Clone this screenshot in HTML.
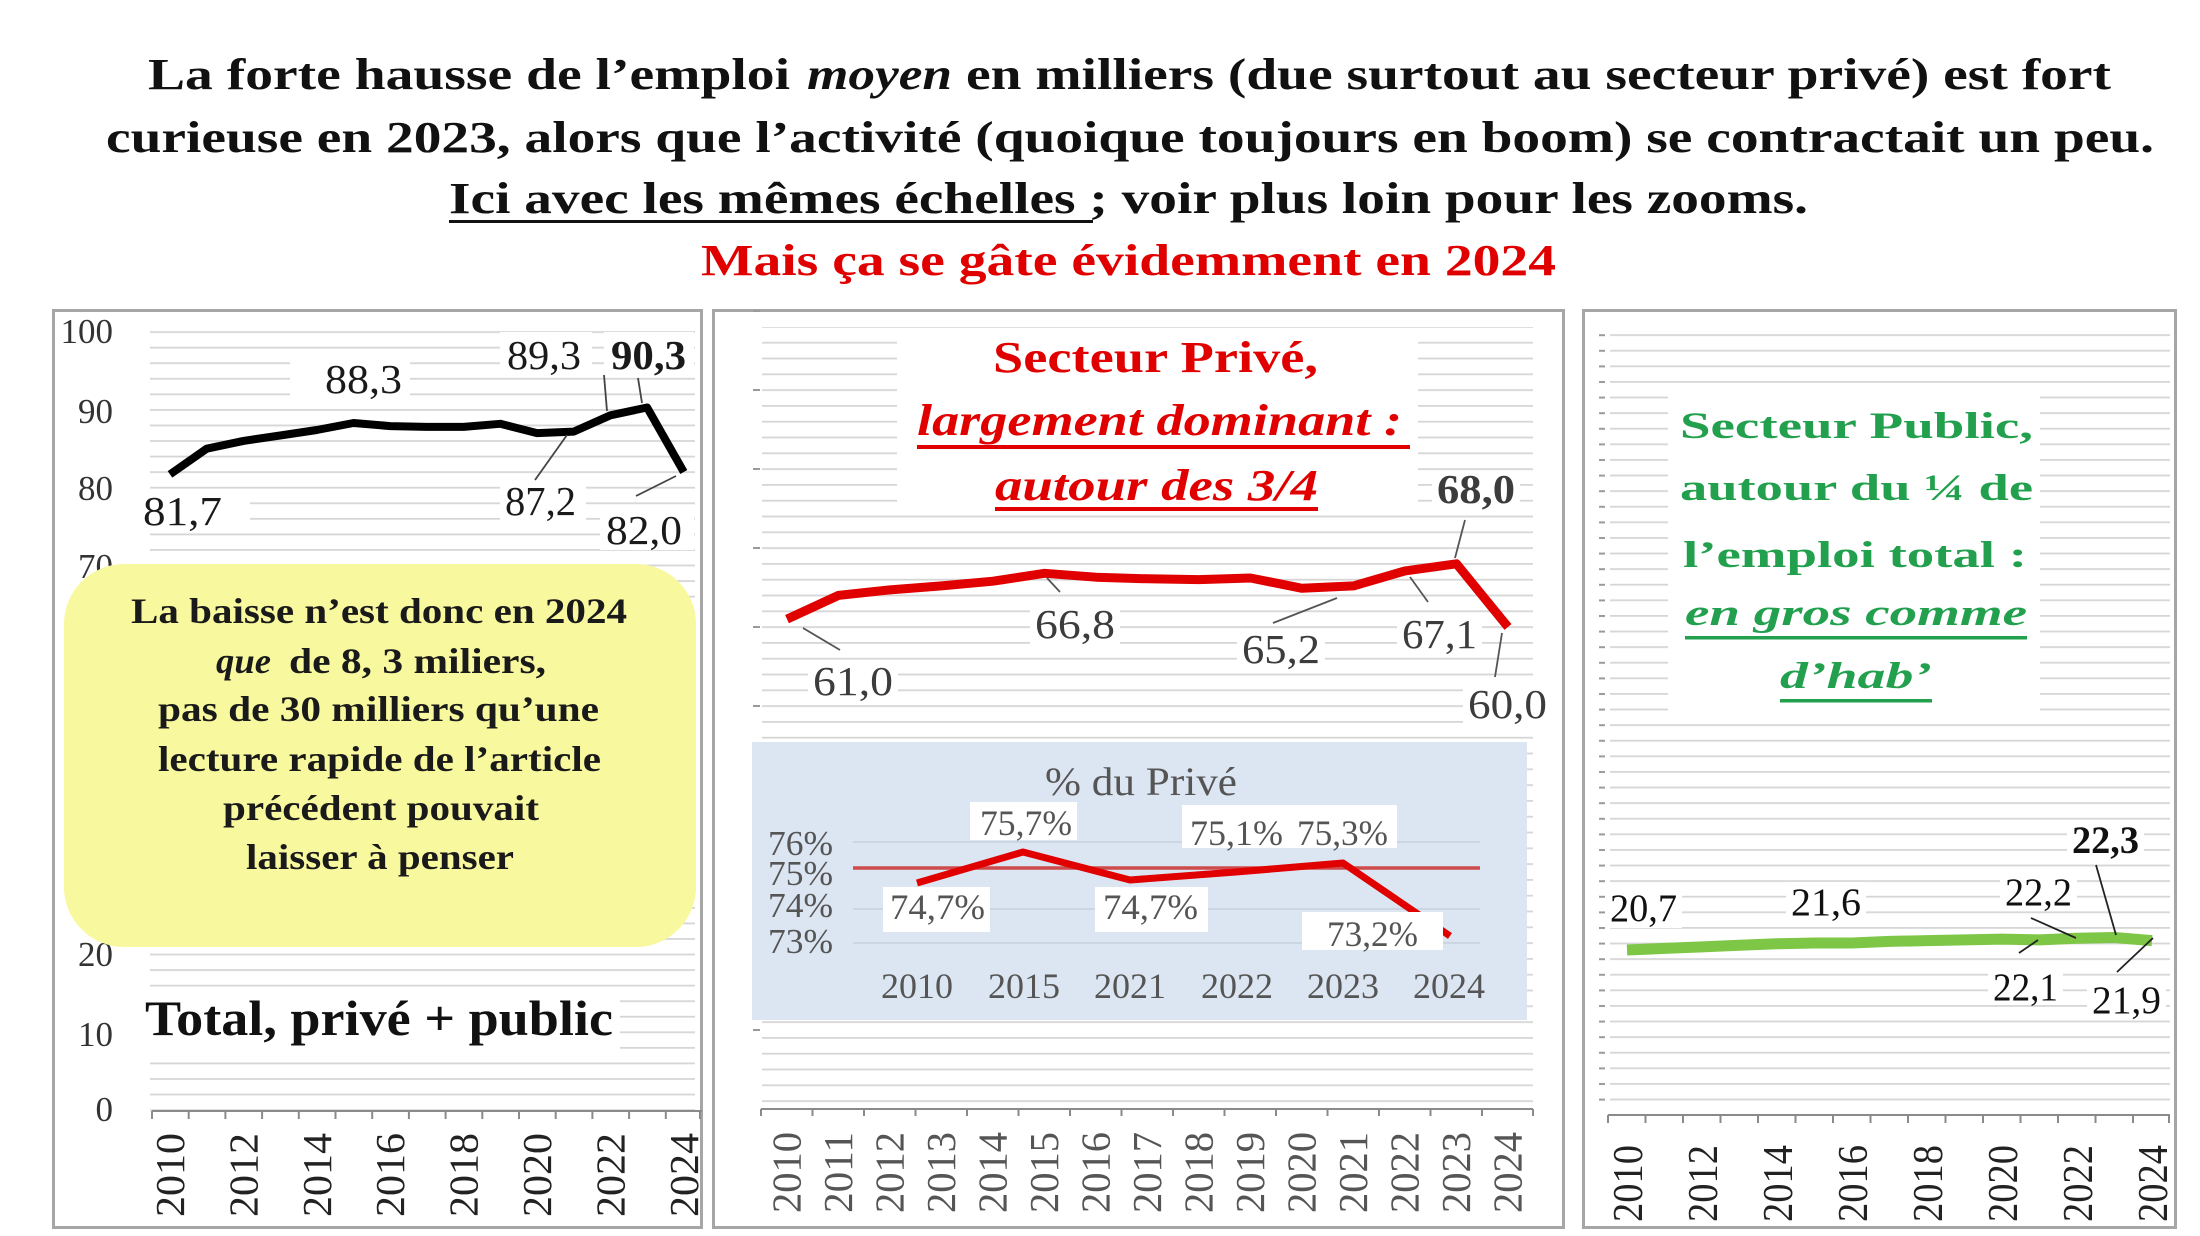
<!DOCTYPE html>
<html><head><meta charset="utf-8"><style>
html,body{margin:0;padding:0;background:#fff;}
svg{display:block;}
text{font-family:"Liberation Serif","DejaVu Serif",serif;}
</style></head><body>
<svg xmlns="http://www.w3.org/2000/svg" width="2200" height="1236" viewBox="0 0 2200 1236">
<defs>
<pattern id="gL" x="0" y="331.2" width="20" height="15.56" patternUnits="userSpaceOnUse"><rect width="20" height="1.8" fill="#d6d6d6"/></pattern>
<pattern id="gM" x="0" y="626.2" width="20" height="15.8" patternUnits="userSpaceOnUse"><rect width="20" height="1.8" fill="#d6d6d6"/></pattern>
<pattern id="gR" x="0" y="1114.2" width="20" height="15.6" patternUnits="userSpaceOnUse"><rect width="20" height="1.8" fill="#d6d6d6"/></pattern>
<pattern id="gRd" x="0" y="1114.2" width="20" height="15.6" patternUnits="userSpaceOnUse"><rect width="20" height="2" fill="#9a9a9a"/></pattern>
</defs>
<rect width="2200" height="1236" fill="#fff"/>

<!-- ===== TITLE ===== -->
<g font-weight="bold" font-size="44" fill="#111">
<text x="148" y="89" textLength="642" lengthAdjust="spacingAndGlyphs">La forte hausse de l’emploi</text>
<text x="807" y="89" textLength="145" lengthAdjust="spacingAndGlyphs" font-style="italic">moyen</text>
<text x="966" y="89" textLength="1145" lengthAdjust="spacingAndGlyphs">en milliers (due surtout au secteur privé) est fort</text>
<text x="106" y="152" textLength="2048" lengthAdjust="spacingAndGlyphs">curieuse en 2023, alors que l’activité (quoique toujours en boom) se contractait un peu.</text>
<text x="449" y="213" textLength="1359" lengthAdjust="spacingAndGlyphs">Ici avec les mêmes échelles ; voir plus loin pour les zooms.</text>
<text x="701" y="275" textLength="855" lengthAdjust="spacingAndGlyphs" fill="#e00000">Mais ça se gâte évidemment en 2024</text>
</g>
<rect x="449" y="220" width="644" height="3" fill="#111"/>

<!-- ===== PANEL BORDERS ===== -->
<rect x="53.5" y="310.5" width="648" height="917" fill="none" stroke="#a6a6a6" stroke-width="3"/>
<rect x="713.5" y="310.5" width="850" height="917" fill="none" stroke="#a6a6a6" stroke-width="3"/>
<rect x="1583.5" y="310.5" width="592" height="917" fill="none" stroke="#a6a6a6" stroke-width="3"/>

<!-- ===== LEFT PANEL (TOTAL) ===== -->
<rect x="150" y="330" width="545" height="781" fill="url(#gL)"/>
<!-- label masks -->
<g fill="#fff">
<rect x="138" y="490" width="112" height="42"/>
<rect x="290" y="356" width="120" height="46"/>
<rect x="500" y="332" width="92" height="44"/>
<rect x="604" y="332" width="90" height="44"/>
<rect x="500" y="482" width="86" height="40"/>
<rect x="600" y="508" width="94" height="42"/>
<rect x="140" y="995" width="480" height="55"/>
</g>
<!-- y labels -->
<g font-size="35" fill="#333" text-anchor="end">
<text x="113" y="343">100</text>
<text x="113" y="423">90</text>
<text x="113" y="500">80</text>
<text x="113" y="578">70</text>
<text x="113" y="656">60</text>
<text x="113" y="733">50</text>
<text x="113" y="811">40</text>
<text x="113" y="889">30</text>
<text x="113" y="966">20</text>
<text x="113" y="1046">10</text>
<text x="113" y="1121">0</text>
</g>
<!-- axis -->
<line x1="152" y1="1111" x2="702" y2="1111" stroke="#8a8a8a" stroke-width="2"/>
<g stroke="#8a8a8a" stroke-width="2">
<line x1="152" y1="1111" x2="152" y2="1119"/><line x1="188.7" y1="1111" x2="188.7" y2="1119"/><line x1="225.4" y1="1111" x2="225.4" y2="1119"/><line x1="262.1" y1="1111" x2="262.1" y2="1119"/><line x1="298.8" y1="1111" x2="298.8" y2="1119"/><line x1="335.5" y1="1111" x2="335.5" y2="1119"/><line x1="372.2" y1="1111" x2="372.2" y2="1119"/><line x1="408.9" y1="1111" x2="408.9" y2="1119"/><line x1="445.6" y1="1111" x2="445.6" y2="1119"/><line x1="482.3" y1="1111" x2="482.3" y2="1119"/><line x1="519" y1="1111" x2="519" y2="1119"/><line x1="555.7" y1="1111" x2="555.7" y2="1119"/><line x1="592.4" y1="1111" x2="592.4" y2="1119"/><line x1="629.1" y1="1111" x2="629.1" y2="1119"/><line x1="665.8" y1="1111" x2="665.8" y2="1119"/><line x1="700" y1="1111" x2="700" y2="1119"/>
</g>
<g font-size="41" fill="#222">
<text transform="translate(184,1217) rotate(-90)" textLength="84" lengthAdjust="spacingAndGlyphs">2010</text>
<text transform="translate(257.4,1217) rotate(-90)" textLength="84" lengthAdjust="spacingAndGlyphs">2012</text>
<text transform="translate(330.8,1217) rotate(-90)" textLength="84" lengthAdjust="spacingAndGlyphs">2014</text>
<text transform="translate(404.2,1217) rotate(-90)" textLength="84" lengthAdjust="spacingAndGlyphs">2016</text>
<text transform="translate(477.6,1217) rotate(-90)" textLength="84" lengthAdjust="spacingAndGlyphs">2018</text>
<text transform="translate(551,1217) rotate(-90)" textLength="84" lengthAdjust="spacingAndGlyphs">2020</text>
<text transform="translate(624.4,1217) rotate(-90)" textLength="84" lengthAdjust="spacingAndGlyphs">2022</text>
<text transform="translate(697.8,1217) rotate(-90)" textLength="84" lengthAdjust="spacingAndGlyphs">2024</text>
</g>
<!-- series -->
<polyline fill="none" stroke="#000" stroke-width="8" stroke-linejoin="round" points="170,474.4 206.7,448.7 243.4,440.9 280.1,435.5 316.8,430 353.5,423 390.2,426.1 426.9,426.9 463.6,426.9 500.3,423.8 537,433.1 573.7,431.6 610.4,415.3 647.1,407.5 683.8,472"/>
<g stroke="#444" stroke-width="1.8">
<line x1="535" y1="480" x2="567" y2="435"/>
<line x1="604" y1="375" x2="607" y2="411"/>
<line x1="638" y1="378" x2="642" y2="403"/>
<line x1="636" y1="496" x2="676" y2="476"/>
</g>
<g font-size="41" fill="#1a1a1a">
<text x="143" y="525" textLength="79" lengthAdjust="spacingAndGlyphs">81,7</text>
<text x="325" y="393" textLength="77" lengthAdjust="spacingAndGlyphs">88,3</text>
<text x="507" y="369" textLength="74" lengthAdjust="spacingAndGlyphs">89,3</text>
<text x="611" y="369" textLength="75" lengthAdjust="spacingAndGlyphs" font-weight="bold">90,3</text>
<text x="505" y="515" textLength="71" lengthAdjust="spacingAndGlyphs">87,2</text>
<text x="606" y="544" textLength="76" lengthAdjust="spacingAndGlyphs">82,0</text>
</g>
<!-- yellow box -->
<rect x="64" y="564" width="632" height="383" rx="60" ry="60" fill="#f8f89e"/>
<g font-size="36" font-weight="bold" fill="#1a1a1a">
<text x="131" y="623" textLength="496" lengthAdjust="spacingAndGlyphs">La baisse n’est donc en 2024</text>
<text x="216" y="673" textLength="55" lengthAdjust="spacingAndGlyphs" font-style="italic">que</text>
<text x="289" y="673" textLength="257" lengthAdjust="spacingAndGlyphs">de 8, 3 miliers,</text>
<text x="158" y="721" textLength="441" lengthAdjust="spacingAndGlyphs">pas de 30 milliers qu’une</text>
<text x="158" y="771" textLength="443" lengthAdjust="spacingAndGlyphs">lecture rapide de l’article</text>
<text x="223" y="820" textLength="316" lengthAdjust="spacingAndGlyphs">précédent pouvait</text>
<text x="246" y="869" textLength="268" lengthAdjust="spacingAndGlyphs">laisser à penser</text>
</g>
<text x="145" y="1035" font-size="50" font-weight="bold" fill="#111" textLength="468" lengthAdjust="spacingAndGlyphs">Total, privé + public</text>

<!-- ===== MIDDLE PANEL (PRIVE) ===== -->
<rect x="762" y="327" width="771" height="782" fill="url(#gM)"/>
<g fill="#fff">
<rect x="897" y="330" width="521" height="185"/>
<rect x="808" y="660" width="90" height="42"/>
<rect x="1030" y="605" width="90" height="40"/>
<rect x="1237" y="630" width="88" height="40"/>
<rect x="1397" y="617" width="85" height="38"/>
<rect x="1432" y="472" width="88" height="36"/>
<rect x="1463" y="687" width="90" height="38"/>
</g>
<g stroke="#999" stroke-width="2">
<line x1="753" y1="311" x2="760" y2="311"/><line x1="753" y1="390" x2="760" y2="390"/><line x1="753" y1="469" x2="760" y2="469"/><line x1="753" y1="548" x2="760" y2="548"/><line x1="753" y1="627" x2="760" y2="627"/><line x1="753" y1="706" x2="760" y2="706"/><line x1="753" y1="1030" x2="760" y2="1030"/>
</g>
<!-- title -->
<g font-weight="bold" fill="#e00000">
<text x="993" y="372" font-size="44" textLength="325" lengthAdjust="spacingAndGlyphs">Secteur Privé,</text>
<text x="917" y="435" font-size="44" font-style="italic" textLength="485" lengthAdjust="spacingAndGlyphs">largement dominant :</text>
<text x="995" y="500" font-size="44" font-style="italic" textLength="323" lengthAdjust="spacingAndGlyphs">autour des 3/4</text>
</g>
<rect x="917" y="445" width="493" height="4" fill="#e00000"/>
<rect x="995" y="507" width="323" height="4" fill="#e00000"/>
<!-- series -->
<polyline fill="none" stroke="#e00000" stroke-width="9" stroke-linejoin="round" points="787,619.1 838.5,595.4 890,589.9 941.5,585.9 993,581.2 1044.5,573.3 1096,577.2 1147.5,578.8 1199,579.6 1250.5,578 1302,588.3 1353.5,585.9 1405,570.9 1456.5,563.8 1508,627"/>
<g stroke="#555" stroke-width="1.8">
<line x1="803" y1="628" x2="840" y2="650"/>
<line x1="1047" y1="578" x2="1060" y2="592"/>
<line x1="1273" y1="623" x2="1337" y2="598"/>
<line x1="1410" y1="577" x2="1428" y2="602"/>
<line x1="1465" y1="520" x2="1455" y2="558"/>
<line x1="1502" y1="633" x2="1495" y2="677"/>
</g>
<g font-size="41" fill="#3c3c3c">
<text x="813" y="695" textLength="80" lengthAdjust="spacingAndGlyphs">61,0</text>
<text x="1035" y="638" textLength="80" lengthAdjust="spacingAndGlyphs">66,8</text>
<text x="1242" y="663" textLength="78" lengthAdjust="spacingAndGlyphs">65,2</text>
<text x="1402" y="648" textLength="75" lengthAdjust="spacingAndGlyphs">67,1</text>
<text x="1437" y="503" textLength="78" lengthAdjust="spacingAndGlyphs" font-weight="bold">68,0</text>
<text x="1468" y="718" textLength="79" lengthAdjust="spacingAndGlyphs">60,0</text>
</g>
<!-- inset -->
<rect x="752" y="742" width="775" height="278" fill="#dce6f2"/>
<g stroke="#c6d1dd" stroke-width="1.5">
<line x1="853" y1="842" x2="1480" y2="842"/>
<line x1="853" y1="909" x2="1480" y2="909"/>
<line x1="853" y1="943" x2="1480" y2="943"/>
</g>
<text x="1045" y="795" font-size="40" fill="#555" textLength="192" lengthAdjust="spacingAndGlyphs">% du Privé</text>
<g font-size="35" fill="#555">
<text x="768" y="855" textLength="65" lengthAdjust="spacingAndGlyphs">76%</text>
<text x="768" y="885" textLength="65" lengthAdjust="spacingAndGlyphs">75%</text>
<text x="768" y="917" textLength="65" lengthAdjust="spacingAndGlyphs">74%</text>
<text x="768" y="953" textLength="65" lengthAdjust="spacingAndGlyphs">73%</text>
</g>
<line x1="853" y1="868" x2="1480" y2="868" stroke="#cf4a4a" stroke-width="3.5"/>
<polyline fill="none" stroke="#e00000" stroke-width="7" stroke-linejoin="round" points="917,883 1023,852 1130,880 1236,872 1343,863 1450,936"/>
<g fill="#fff">
<rect x="970" y="802" width="107" height="38"/>
<rect x="883" y="887" width="107" height="45"/>
<rect x="1095" y="887" width="113" height="45"/>
<rect x="1182" y="805" width="215" height="43"/>
<rect x="1302" y="912" width="141" height="38"/>
</g>
<g font-size="36" fill="#555">
<text x="980" y="835" textLength="92" lengthAdjust="spacingAndGlyphs">75,7%</text>
<text x="890" y="919" textLength="95" lengthAdjust="spacingAndGlyphs">74,7%</text>
<text x="1103" y="919" textLength="95" lengthAdjust="spacingAndGlyphs">74,7%</text>
<text x="1190" y="845" textLength="93" lengthAdjust="spacingAndGlyphs">75,1%</text>
<text x="1297" y="845" textLength="91" lengthAdjust="spacingAndGlyphs">75,3%</text>
<text x="1327" y="946" textLength="91" lengthAdjust="spacingAndGlyphs">73,2%</text>
</g>
<g font-size="36" fill="#555" text-anchor="middle">
<text x="917" y="998">2010</text>
<text x="1024" y="998">2015</text>
<text x="1130" y="998">2021</text>
<text x="1237" y="998">2022</text>
<text x="1343" y="998">2023</text>
<text x="1449" y="998">2024</text>
</g>
<!-- middle axis -->
<line x1="761" y1="1109" x2="1533" y2="1109" stroke="#8a8a8a" stroke-width="2"/>
<g stroke="#8a8a8a" stroke-width="2">
<line x1="761" y1="1109" x2="761" y2="1116"/><line x1="812.5" y1="1109" x2="812.5" y2="1116"/><line x1="864" y1="1109" x2="864" y2="1116"/><line x1="915.5" y1="1109" x2="915.5" y2="1116"/><line x1="967" y1="1109" x2="967" y2="1116"/><line x1="1018.5" y1="1109" x2="1018.5" y2="1116"/><line x1="1070" y1="1109" x2="1070" y2="1116"/><line x1="1121.5" y1="1109" x2="1121.5" y2="1116"/><line x1="1173" y1="1109" x2="1173" y2="1116"/><line x1="1224.5" y1="1109" x2="1224.5" y2="1116"/><line x1="1276" y1="1109" x2="1276" y2="1116"/><line x1="1327.5" y1="1109" x2="1327.5" y2="1116"/><line x1="1379" y1="1109" x2="1379" y2="1116"/><line x1="1430.5" y1="1109" x2="1430.5" y2="1116"/><line x1="1482" y1="1109" x2="1482" y2="1116"/><line x1="1533" y1="1109" x2="1533" y2="1116"/>
</g>
<g font-size="41" fill="#555">
<text transform="translate(800.5,1213) rotate(-90)" textLength="81" lengthAdjust="spacingAndGlyphs">2010</text>
<text transform="translate(852,1213) rotate(-90)" textLength="81" lengthAdjust="spacingAndGlyphs">2011</text>
<text transform="translate(903.5,1213) rotate(-90)" textLength="81" lengthAdjust="spacingAndGlyphs">2012</text>
<text transform="translate(955,1213) rotate(-90)" textLength="81" lengthAdjust="spacingAndGlyphs">2013</text>
<text transform="translate(1006.5,1213) rotate(-90)" textLength="81" lengthAdjust="spacingAndGlyphs">2014</text>
<text transform="translate(1058,1213) rotate(-90)" textLength="81" lengthAdjust="spacingAndGlyphs">2015</text>
<text transform="translate(1109.5,1213) rotate(-90)" textLength="81" lengthAdjust="spacingAndGlyphs">2016</text>
<text transform="translate(1161,1213) rotate(-90)" textLength="81" lengthAdjust="spacingAndGlyphs">2017</text>
<text transform="translate(1212.5,1213) rotate(-90)" textLength="81" lengthAdjust="spacingAndGlyphs">2018</text>
<text transform="translate(1264,1213) rotate(-90)" textLength="81" lengthAdjust="spacingAndGlyphs">2019</text>
<text transform="translate(1315.5,1213) rotate(-90)" textLength="81" lengthAdjust="spacingAndGlyphs">2020</text>
<text transform="translate(1367,1213) rotate(-90)" textLength="81" lengthAdjust="spacingAndGlyphs">2021</text>
<text transform="translate(1418.5,1213) rotate(-90)" textLength="81" lengthAdjust="spacingAndGlyphs">2022</text>
<text transform="translate(1470,1213) rotate(-90)" textLength="81" lengthAdjust="spacingAndGlyphs">2023</text>
<text transform="translate(1521.5,1213) rotate(-90)" textLength="81" lengthAdjust="spacingAndGlyphs">2024</text>
</g>

<!-- ===== RIGHT PANEL (PUBLIC) ===== -->
<rect x="1610" y="334" width="560" height="781" fill="url(#gR)"/>
<rect x="1599" y="334" width="6" height="770" fill="url(#gRd)"/>
<g fill="#fff">
<rect x="1668" y="395" width="372" height="317"/>
<rect x="1605" y="888" width="77" height="40"/>
<rect x="1786" y="882" width="80" height="38"/>
<rect x="2000" y="873" width="77" height="37"/>
<rect x="2067" y="822" width="77" height="36"/>
<rect x="1988" y="965" width="75" height="40"/>
<rect x="2087" y="980" width="79" height="40"/>
</g>
<g font-weight="bold" fill="#22a04e" font-size="37">
<text x="1680" y="438" textLength="353" lengthAdjust="spacingAndGlyphs">Secteur Public,</text>
<text x="1680" y="500" textLength="353" lengthAdjust="spacingAndGlyphs">autour du ¼ de</text>
<text x="1683" y="567" textLength="344" lengthAdjust="spacingAndGlyphs">l’emploi total :</text>
<text x="1685" y="625" textLength="342" lengthAdjust="spacingAndGlyphs" font-style="italic">en gros comme</text>
<text x="1780" y="688" textLength="152" lengthAdjust="spacingAndGlyphs" font-style="italic">d’hab’</text>
</g>
<rect x="1685" y="636" width="342" height="3.5" fill="#22a04e"/>
<rect x="1780" y="699" width="152" height="3.5" fill="#22a04e"/>
<!-- series -->
<polyline fill="none" stroke="#7dc646" stroke-width="11" stroke-linejoin="round" points="1627,950 1664.5,948.4 1702,946.9 1739.5,945.3 1777,943.8 1814.5,943 1852,943 1889.5,941.4 1927,940.6 1964.5,939.9 2002,939.1 2039.5,939.9 2077,938.3 2114.5,937.5 2152,940.6"/>
<g stroke="#222" stroke-width="1.8">
<line x1="2031" y1="918" x2="2076" y2="938"/>
<line x1="2096" y1="865" x2="2116" y2="935"/>
<line x1="2019" y1="953" x2="2038" y2="940"/>
<line x1="2117" y1="972" x2="2153" y2="938"/>
</g>
<g font-size="39" fill="#111">
<text x="1610" y="921" textLength="67" lengthAdjust="spacingAndGlyphs">20,7</text>
<text x="1791" y="915" textLength="70" lengthAdjust="spacingAndGlyphs">21,6</text>
<text x="2005" y="905" textLength="67" lengthAdjust="spacingAndGlyphs">22,2</text>
<text x="2072" y="853" textLength="67" lengthAdjust="spacingAndGlyphs" font-weight="bold">22,3</text>
<text x="1993" y="1000" textLength="65" lengthAdjust="spacingAndGlyphs">22,1</text>
<text x="2092" y="1013" textLength="69" lengthAdjust="spacingAndGlyphs">21,9</text>
</g>
<!-- right axis -->
<line x1="1608" y1="1115" x2="2170" y2="1115" stroke="#8a8a8a" stroke-width="2"/>
<g stroke="#8a8a8a" stroke-width="2">
<line x1="1608" y1="1115" x2="1608" y2="1123"/><line x1="1645.5" y1="1115" x2="1645.5" y2="1123"/><line x1="1683" y1="1115" x2="1683" y2="1123"/><line x1="1720.5" y1="1115" x2="1720.5" y2="1123"/><line x1="1758" y1="1115" x2="1758" y2="1123"/><line x1="1795.5" y1="1115" x2="1795.5" y2="1123"/><line x1="1833" y1="1115" x2="1833" y2="1123"/><line x1="1870.5" y1="1115" x2="1870.5" y2="1123"/><line x1="1908" y1="1115" x2="1908" y2="1123"/><line x1="1945.5" y1="1115" x2="1945.5" y2="1123"/><line x1="1983" y1="1115" x2="1983" y2="1123"/><line x1="2020.5" y1="1115" x2="2020.5" y2="1123"/><line x1="2058" y1="1115" x2="2058" y2="1123"/><line x1="2095.5" y1="1115" x2="2095.5" y2="1123"/><line x1="2133" y1="1115" x2="2133" y2="1123"/><line x1="2169" y1="1115" x2="2169" y2="1123"/>
</g>
<g font-size="42" fill="#222">
<text transform="translate(1642,1222) rotate(-90)" textLength="77" lengthAdjust="spacingAndGlyphs">2010</text>
<text transform="translate(1717,1222) rotate(-90)" textLength="77" lengthAdjust="spacingAndGlyphs">2012</text>
<text transform="translate(1792,1222) rotate(-90)" textLength="77" lengthAdjust="spacingAndGlyphs">2014</text>
<text transform="translate(1867,1222) rotate(-90)" textLength="77" lengthAdjust="spacingAndGlyphs">2016</text>
<text transform="translate(1942,1222) rotate(-90)" textLength="77" lengthAdjust="spacingAndGlyphs">2018</text>
<text transform="translate(2017,1222) rotate(-90)" textLength="77" lengthAdjust="spacingAndGlyphs">2020</text>
<text transform="translate(2092,1222) rotate(-90)" textLength="77" lengthAdjust="spacingAndGlyphs">2022</text>
<text transform="translate(2167,1222) rotate(-90)" textLength="77" lengthAdjust="spacingAndGlyphs">2024</text>
</g>
</svg>
</body></html>
